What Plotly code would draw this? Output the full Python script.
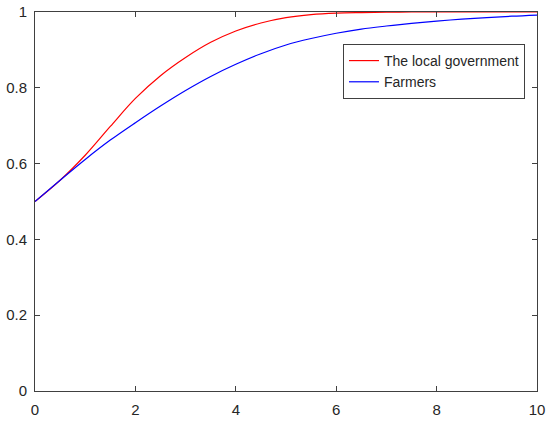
import plotly.graph_objects as go

t = [0, 0.5, 1, 1.5, 2, 2.5, 3, 3.5, 4, 4.5, 5, 5.5, 6, 6.5, 7, 7.5, 8, 8.5, 9, 9.5, 10]
government = [0.50, 0.556, 0.622, 0.698, 0.772, 0.832, 0.880, 0.920, 0.950, 0.971, 0.985,
              0.993, 0.997, 0.9985, 0.9993, 1.0, 1.0, 1.0, 1.0, 1.0, 1.0]
farmers = [0.50, 0.556, 0.611, 0.662, 0.708, 0.752, 0.793, 0.830, 0.862, 0.890, 0.913,
           0.930, 0.944, 0.955, 0.963, 0.970, 0.976, 0.981, 0.985, 0.989, 0.992]

fig = go.Figure()
fig.add_trace(go.Scatter(x=t, y=government, mode="lines", name="The local government",
                         line=dict(color="#ff0000", width=1.2, shape="spline")))
fig.add_trace(go.Scatter(x=t, y=farmers, mode="lines", name="Farmers",
                         line=dict(color="#0000ff", width=1.2, shape="spline")))

axis_style = dict(showline=True, linecolor="#404040", linewidth=1, mirror="ticks",
                  ticks="inside", ticklen=5, tickcolor="#404040", showgrid=False,
                  zeroline=False, automargin=False, ticklabeloverflow="allow",
                  tickfont=dict(size=15, color="#262626"))

fig.update_xaxes(range=[0, 10], tickvals=[0, 2, 4, 6, 8, 10],
                 ticklabelstandoff=5, **axis_style)
fig.update_yaxes(range=[0, 1], tickvals=[0, 0.2, 0.4, 0.6, 0.8, 1],
                 ticktext=["0", "0.2", "0.4", "0.6", "0.8", "1"],
                 ticklabelstandoff=4, **axis_style)

fig.update_layout(
    width=550, height=424,
    margin=dict(l=35, r=13, t=12, b=33, autoexpand=False),
    plot_bgcolor="white", paper_bgcolor="white",
    font=dict(family="Liberation Sans, Arial, sans-serif", color="#262626"),
    legend=dict(x=0.6135, y=0.9156, xanchor="left", yanchor="top",
                bordercolor="#404040", borderwidth=1, bgcolor="white",
                font=dict(size=14), tracegroupgap=0, itemwidth=30),
)

# drop the default page margin so the figure sits at the window's corner
fig.write_html("out.html", config={"displayModeBar": False},
               post_script="document.body.style.margin='0';"
                           "document.body.style.overflow='hidden';")
